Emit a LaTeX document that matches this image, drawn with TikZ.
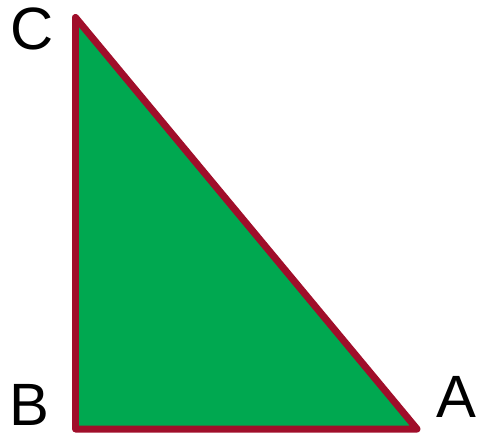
\documentclass[tikz,border=0pt]{standalone}
\usepackage{fontspec}
\setmainfont{Liberation Sans}
\definecolor{triGreen}{RGB}{0,168,80}
\definecolor{triRed}{RGB}{160,14,42}
\tikzset{
  vlabel/.style={font=\fontsize{34}{40}\selectfont, inner sep=0pt}
}
\begin{document}
\begin{tikzpicture}[x=0.02cm,y=-0.02cm]
  \useasboundingbox (0,0) rectangle (478,437);
  \coordinate (C) at (75.5,17.5);
  \coordinate (B) at (75.5,429);
  \coordinate (A) at (417,429);
  \draw[line width=3.98pt, draw=triRed, fill=triGreen, line join=round] (C)--(B)--(A)--cycle;
  \node[vlabel] (lC) at (32,28.5) {C};
  \node[vlabel] (lB) at (29,405) {B};
  \node[vlabel] (lA) at (456.5,396.5) {A};
\end{tikzpicture}
\end{document}
